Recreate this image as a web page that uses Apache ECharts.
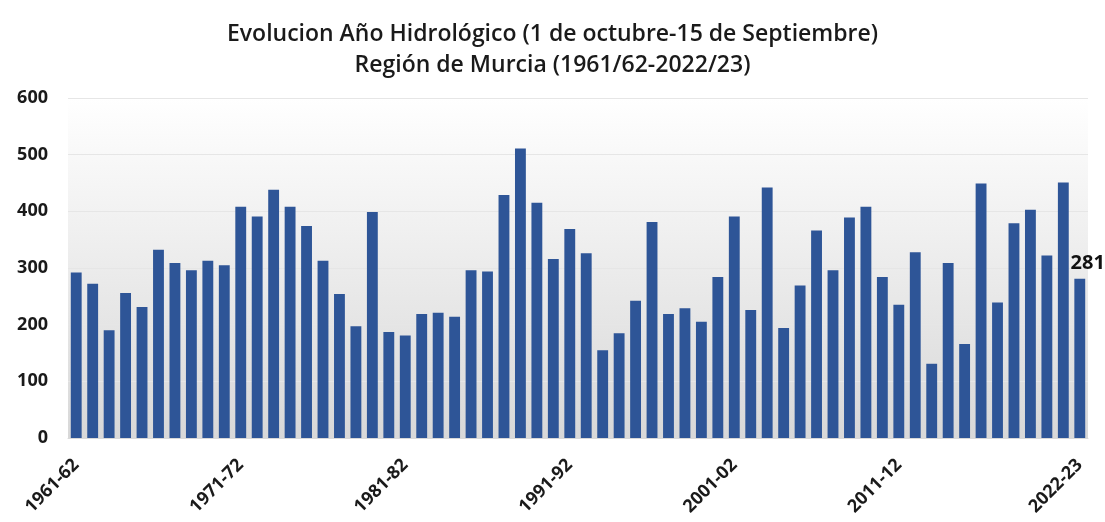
<!DOCTYPE html>
<html>
<head>
    <meta charset="UTF-8">
    <title>Evolucion Año Hidrológico</title>
    <script src="https://cdn.jsdelivr.net/npm/echarts@6/dist/echarts.min.js"></script>
    <style>
        html, body { margin: 0; padding: 0; background: #fff; }
        #chart { width: 1105px; height: 522px; }
    </style>
</head>
<body>
<div id="chart"></div>
<script type="text/javascript">
    // campañas hidrológicas 1961-62 ... 2022-23
    var years = [];
    for (var y = 1961; y <= 2022; y++) {
        years.push(y + '-' + String((y + 1) % 100).padStart(2, '0'));
    }
    // precipitación (l/m2)
    var lluvia = [
        292, 272, 190, 256, 231, 332, 309, 296, 313, 305,
        408, 391, 438, 408, 374, 313, 254, 197, 399, 187,
        181, 219, 221, 214, 296, 294, 429, 511, 415, 316,
        369, 326, 155, 185, 242, 381, 219, 229, 205, 284,
        391, 226, 442, 194, 269, 366, 296, 389, 408, 284,
        235, 328, 131, 309, 166, 449, 239, 379, 403, 322,
        451, 281
    ];
    var labelIdx = [0, 10, 20, 30, 40, 50, 61];
    var yTicks = [0, 100, 200, 300, 400, 500, 600];

    var last = lluvia.length - 1;
    var serieData = lluvia.map(function (v, i) {
        if (i == last) {
            return {
                value: v,
                label: {
                    show: true, position: 'top', offset: [8, 0],
                    color: '#111', fontSize: 20, fontWeight: 'bold',
                    fontFamily: 'Open Sans'
                }
            };
        }
        return v;
    });

    var myChart = echarts.init(document.getElementById('chart'));
    var option = {
        animation: false,
        backgroundColor: '#fff',
        title: {
            text: 'Evolucion Año Hidrológico (1 de octubre-15 de Septiembre)\nRegión de Murcia (1961/62-2022/23)',
            left: 'center',
            top: 14,
            textStyle: {
                fontFamily: 'Open Sans',
                fontSize: 23,
                fontWeight: 600,
                color: '#1a1a1a',
                lineHeight: 31
            }
        },
        grid: {
            left: 68, right: 17, top: 98, bottom: 84,
            show: true,
            borderWidth: 0,
            backgroundColor: new echarts.graphic.LinearGradient(0, 0, 0, 1, [
                {offset: 0, color: '#ffffff'},
                {offset: 1, color: '#d8d8d8'}
            ])
        },
        xAxis: {
            type: 'category',
            data: years,
            axisTick: {show: false},
            axisLine: {lineStyle: {color: '#d9d9d9'}},
            axisLabel: {
                interval: function (i) { return labelIdx.indexOf(i) >= 0; },
                rotate: 45,
                margin: 24,
                fontFamily: 'Open Sans',
                fontSize: 18,
                fontWeight: 'bold',
                color: '#1a1a1a'
            }
        },
        yAxis: {
            type: 'value',
            min: yTicks[0],
            max: yTicks[yTicks.length - 1],
            interval: 100,
            axisLine: {show: false},
            axisTick: {show: false},
            splitLine: {lineStyle: {color: '#e6e6e6'}},
            axisLabel: {
                margin: 20,
                fontFamily: 'Open Sans',
                fontSize: 18,
                fontWeight: 'bold',
                color: '#1a1a1a'
            }
        },
        series: [{
            name: 'Precipitación',
            type: 'bar',
            data: serieData,
            barCategoryGap: '34%',
            itemStyle: {color: '#2e5597'}
        }]
    };
    myChart.setOption(option);
</script>
</body>
</html>
